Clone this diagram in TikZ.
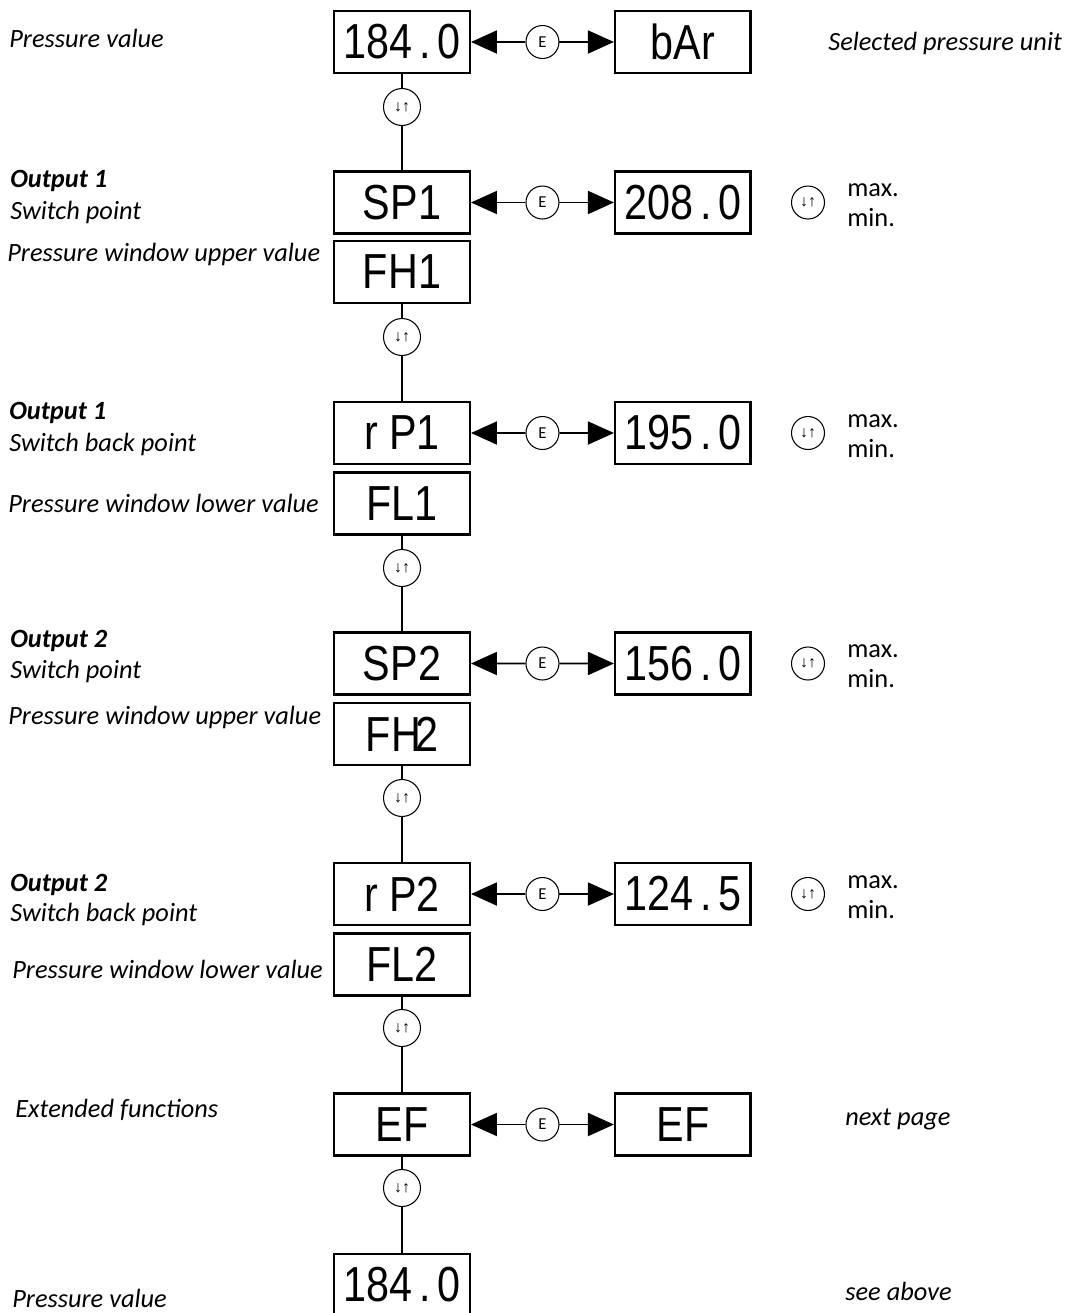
\documentclass[tikz,border=0pt]{standalone}
\usepackage{fontspec}
\setmainfont{Carlito}
\newfontfamily\lcdfont[FakeStretch=0.84]{Liberation Sans}
\newfontfamily\keyfont{Liberation Sans}
\usetikzlibrary{positioning,calc,arrows.meta}
\newcommand{\lcddot}{\hspace{0.14em}.\hspace{0.14em}}
\tikzset{
  disp/.style={draw,line width=1.4pt,minimum width=2.71cm,minimum height=1.24cm,inner sep=0pt,font=\lcdfont\fontsize{28}{28}\selectfont},
  ebtn/.style={circle,draw,line width=0.6pt,minimum size=0.66cm,inner sep=0pt,fill=white,font=\fontsize{9.5}{9.5}\selectfont},
  ubtn/.style={circle,draw,line width=0.6pt,minimum size=0.74cm,inner sep=0pt,fill=white,font=\keyfont\fontsize{9}{9}\selectfont},
  abtn/.style={ubtn,minimum size=0.66cm},
  lnk/.style={line width=1.1pt},
  arr/.style={-{Triangle[length=0.52cm,width=0.46cm]},line width=1.1pt},
  lab/.style={anchor=base west,inner sep=0pt,font=\itshape\fontsize{15}{17}\selectfont},
  labh/.style={lab,font=\bfseries\itshape\fontsize{15}{17}\selectfont},
  rng/.style={anchor=base west,inner sep=0pt,font=\fontsize{15}{17}\selectfont},
}
\begin{document}
\begin{tikzpicture}[x=0.02cm,y=-0.02cm]
  \useasboundingbox (0,0) rectangle (1069,1313);
  % display column
  \node[disp] (pv) at (402,42) {184\lcddot0};
  \node[disp,right=2.86cm of pv] (unit) {bAr};
  \node[disp] (sp1) at (402,202.5) {SP1};
  \node[disp,right=2.86cm of sp1] (sp1v) {208\lcddot0};
  \node[disp,below=0.1cm of sp1] (fh1) {FH1};
  \node[disp] (rp1) at (402,433) {r P1};
  \node[disp,right=2.86cm of rp1] (rp1v) {195\lcddot0};
  \node[disp,below=0.12cm of rp1] (fl1) {FL1};
  \node[disp] (sp2) at (402,663.5) {SP2};
  \node[disp,right=2.86cm of sp2] (sp2v) {156\lcddot0};
  \node[disp,below=0.12cm of sp2] (fh2) {FH\kern-0.12em2};
  \node[disp] (rp2) at (402,894) {r P2};
  \node[disp,right=2.86cm of rp2] (rp2v) {124\lcddot5};
  \node[disp,below=0.12cm of rp2] (fl2) {FL2};
  \node[disp] (ef) at (402,1124.5) {EF};
  \node[disp,right=2.86cm of ef] (efn) {EF};
  \node[disp] (pvb) at (402,1285) {184\lcddot0};
  % keys
  \foreach \a/\b/\n in {pv/unit/0,sp1/sp1v/1,rp1/rp1v/2,sp2/sp2v/3,rp2/rp2v/4,ef/efn/5}
    \node[ebtn] (e\n) at ($(\a)!0.5!(\b)$) {E};
  \foreach \y/\n in {107/0,337/1,568/2,798/3,1028/4,1188/5}
    \node[ubtn] (u\n) at (402,\y) {↓↑};
  \foreach \y/\n in {202.5/1,433/2,663.5/3,894/4}
    \node[abtn] (a\n) at (808,\y) {↓↑};
  % connectors
  \foreach \a/\e/\b in {pv/e0/unit,sp1/e1/sp1v,rp1/e2/rp1v,sp2/e3/sp2v,rp2/e4/rp2v,ef/e5/efn}{
    \draw[arr] (\e) -- (\a);
    \draw[arr] (\e) -- (\b);
  }
  \foreach \a/\u/\b in {pv/u0/sp1,fh1/u1/rp1,fl1/u2/sp2,fh2/u3/rp2,fl2/u4/ef,ef/u5/pvb}
    \draw[lnk] (\a) -- (\u) -- (\b);
  % texts
  \node[lab] (tpv) at (9,47) {Pressure value};
  \node[lab] (tunit) at (828,50) {Selected pressure unit};
  \node[labh] (to1) at (10,187) {Output 1};
  \node[lab] (tsp1) at (10,219) {Switch point};
  \node[lab] (tfh1) at (7,261) {Pressure window upper value};
  \node[labh] (to1b) at (9,419) {Output 1};
  \node[lab] (trp1) at (9,451) {Switch back point};
  \node[lab] (tfl1) at (8,512) {Pressure window lower value};
  \node[labh] (to2) at (10,647) {Output 2};
  \node[lab] (tsp2) at (10,678) {Switch point};
  \node[lab] (tfh2) at (8,724) {Pressure window upper value};
  \node[labh] (to2b) at (10,891) {Output 2};
  \node[lab] (trp2) at (10,921) {Switch back point};
  \node[lab] (tfl2) at (12,978) {Pressure window lower value};
  \node[lab] (tef) at (15,1117) {Extended functions};
  \node[lab] (tefn) at (845,1125) {next page};
  \node[lab] (tpvb) at (12,1307) {Pressure value};
  \node[lab] (tsee) at (845,1300) {see above};
  \foreach \y/\n in {202.5/1,433/2,663.5/3,894/4}{
    \node[rng] (mx\n) at (847,\y-6) {max.};
    \node[rng] (mn\n) at (847,\y+24) {min.};
  }
\end{tikzpicture}
\end{document}
